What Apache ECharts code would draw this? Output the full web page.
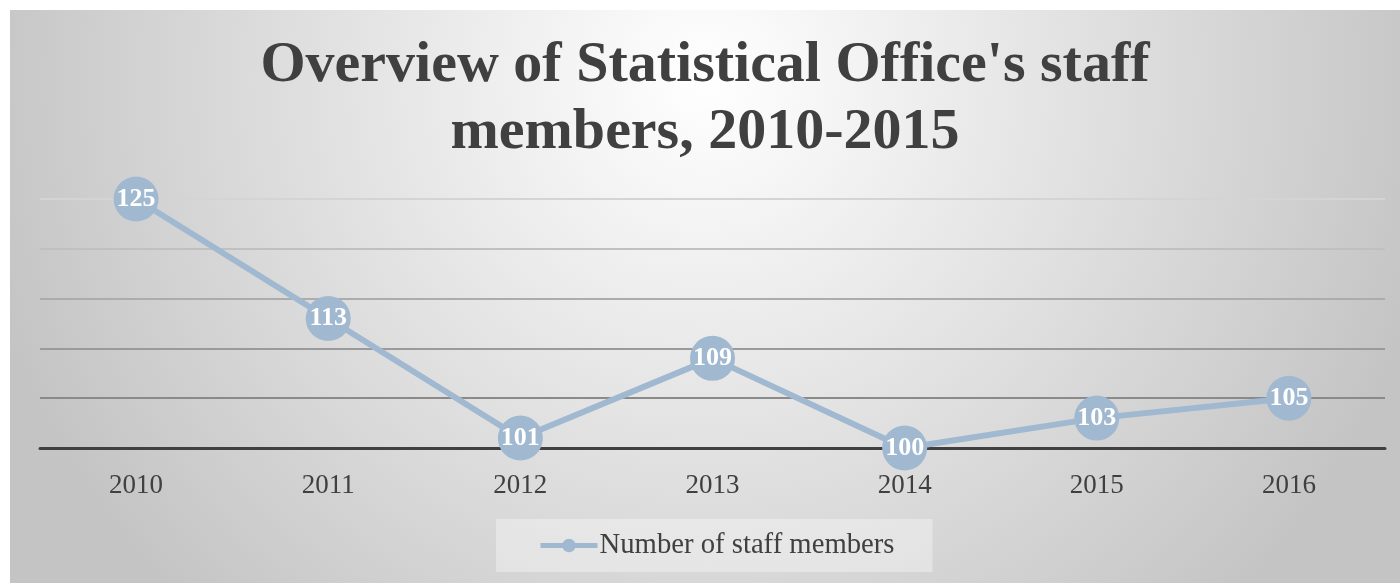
<!DOCTYPE html>
<html>
<head>
<meta charset="utf-8">
<script src="https://cdn.jsdelivr.net/npm/echarts@6/dist/echarts.min.js"></script>
<style>
  html, body { margin: 0; padding: 0; background: #fff; }
  #main { position: absolute; left: 10px; top: 10px; width: 1390px; height: 573px; }
</style>
</head>
<body>
<div id="main"></div>
<script>
// 数据
let years = ['2010', '2011', '2012', '2013', '2014', '2015', '2016']
let staff = [125, 113, 101, 109, 100, 103, 105]
let gridColors = ['#8a8a8a', '#8a8a8a', '#9a9a9a', '#acacac', '#c0c0c0', '#d4d4d4']

let serif = '"Liberation Serif", "DejaVu Serif", serif'
let lineColor = '#a0b9d0'

let myChart = echarts.init(document.getElementById('main'))
let option = {
    backgroundColor: {
        type: 'radial', x: 0.5, y: 0.12, r: 1.3,
        colorStops: [
            { offset: 0, color: '#ffffff' },
            { offset: 1, color: '#c4c4c4' }
        ]
    },
    title: {
        text: "Overview of Statistical Office's staff\nmembers, 2010-2015",
        left: 'center',
        top: 18,
        textStyle: {
            fontFamily: serif, fontWeight: 'bold', fontSize: 58,
            lineHeight: 67, color: '#404040'
        }
    },
    legend: {
        bottom: 11,
        left: 486,
        padding: [12, 38, 12, 42],
        backgroundColor: 'rgba(255,255,255,0.35)',
        itemWidth: 57,
        itemHeight: 17,
        itemGap: 0,
        lineStyle: { width: 5, color: lineColor },
        textStyle: { fontFamily: serif, fontSize: 28.7, color: '#404040', padding: [0, 0, 0, -3] },
        data: ['Number of staff members']
    },
    grid: { left: 30, right: 15, top: 189, bottom: 135 },
    xAxis: {
        type: 'category',
        data: years,
        axisLine: { lineStyle: { color: '#404040', width: 3 } },
        axisTick: { show: false },
        axisLabel: { fontFamily: serif, fontSize: 27, color: '#404040', margin: 24 }
    },
    yAxis: {
        type: 'value',
        min: 100, max: 125, interval: 5,
        axisLabel: { show: false },
        axisLine: { show: false },
        axisTick: { show: false },
        splitLine: { lineStyle: { color: gridColors, width: 2 } }
    },
    series: [{
        name: 'Number of staff members',
        type: 'line',
        data: staff,
        symbol: 'circle',
        symbolSize: 45,
        itemStyle: { color: lineColor },
        lineStyle: { color: lineColor, width: 6 },
        label: {
            show: true, position: 'inside', color: '#fff',
            fontFamily: serif, fontWeight: 'bold', fontSize: 26
        },
        animation: false
    }]
}
myChart.setOption(option)
</script>
</body>
</html>
